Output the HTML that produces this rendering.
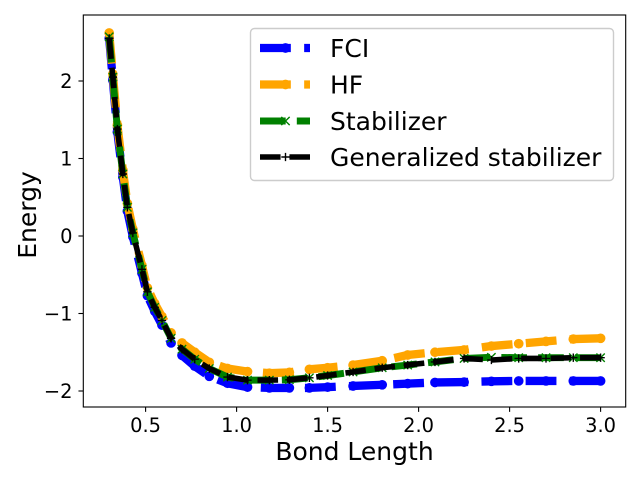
<!DOCTYPE html>
<html>
<head>
<meta charset="utf-8">
<title>Energy vs Bond Length</title>
<style>
html,body{margin:0;padding:0;background:#fff;width:640px;height:480px;overflow:hidden}
svg{display:block}
text{font-family:"DejaVu Sans","Liberation Sans",sans-serif;fill:#000}
</style>
</head>
<body>
<svg id="chart" xmlns="http://www.w3.org/2000/svg" width="640" height="480" viewBox="0 0 640 480"></svg>
<script>
const bondLengths = [0.30,0.32,0.345,0.375,0.40,0.43,0.48,0.51,0.55,0.59,0.64,0.70,0.77,0.85,0.95,1.06,1.18,1.29,1.40,1.50,1.64,1.80,1.94,2.09,2.25,2.40,2.55,2.70,2.85,3.00];
const fciValues = [2.55,2.01,1.34,0.76,0.32,-0.01,-0.48,-0.77,-0.97,-1.15,-1.38,-1.54,-1.68,-1.81,-1.90,-1.95,-1.96,-1.96,-1.96,-1.95,-1.935,-1.92,-1.905,-1.89,-1.885,-1.875,-1.87,-1.87,-1.87,-1.87];
const hfValues = [2.62,2.09,1.43,0.85,0.42,0.09,-0.38,-0.67,-0.87,-1.04,-1.25,-1.38,-1.50,-1.63,-1.71,-1.75,-1.77,-1.76,-1.72,-1.70,-1.665,-1.61,-1.535,-1.50,-1.47,-1.42,-1.39,-1.36,-1.33,-1.32];
const stabilizerValues = [2.57,2.05,1.38,0.80,0.37,0.04,-0.43,-0.72,-0.92,-1.09,-1.32,-1.46,-1.59,-1.71,-1.82,-1.86,-1.86,-1.855,-1.83,-1.80,-1.755,-1.70,-1.665,-1.625,-1.58,-1.565,-1.57,-1.57,-1.57,-1.57];
const generalizedValues = [2.55,2.05,1.38,0.80,0.37,0.04,-0.43,-0.72,-0.92,-1.09,-1.32,-1.46,-1.59,-1.71,-1.82,-1.86,-1.86,-1.855,-1.83,-1.80,-1.755,-1.70,-1.665,-1.625,-1.58,-1.60,-1.58,-1.58,-1.57,-1.57];
const xTicks = [0.5,1.0,1.5,2.0,2.5,3.0];
const xTickLabels = ["0.5","1.0","1.5","2.0","2.5","3.0"];
const yTicks = [-2,-1,0,1,2];
const yTickLabels = ["\u22122","\u22121","0","1","2"];
const seriesNames = ["FCI","HF","Stabilizer","Generalized stabilizer"];

const svg = document.getElementById('chart');
const NS = 'http://www.w3.org/2000/svg';
const plot = {left:83.3, right:625.7, top:15, bottom:407};
function xScale(v){ return 145.6 + (v - 0.5) * 182; }
function yScale(v){ return 236 - v * 77.5; }
function mk(tag, attrs, parent){
  const el = document.createElementNS(NS, tag);
  for (const k in attrs) el.setAttribute(k, attrs[k]);
  (parent || svg).appendChild(el);
  return el;
}
function drawMarker(kind, x, y, color, parent){
  if (kind === 'o') {
    return mk('circle', {cx:x, cy:y, r:4.85, fill:color}, parent);
  }
  const r = 4.17;
  if (kind === 'x') {
    return mk('path', {d:`M${x-r} ${y-r}L${x+r} ${y+r}M${x-r} ${y+r}L${x+r} ${y-r}`, stroke:color, 'stroke-width':1.39, fill:'none'}, parent);
  }
  return mk('path', {d:`M${x-r} ${y}L${x+r} ${y}M${x} ${y-r}L${x} ${y+r}`, stroke:color, 'stroke-width':1.39, fill:'none'}, parent);
}
function polyLength(pts){
  let total = 0;
  for (let i = 1; i < pts.length; i++) {
    total += Math.hypot(pts[i][0]-pts[i-1][0], pts[i][1]-pts[i-1][1]);
  }
  return total;
}

const styles = [
  {color:'#0000ff', width:8.33, dash:30.83, gap:13.33, marker:'o', key:'fci'},
  {color:'#ffa500', width:8.33, dash:30.83, gap:13.33, marker:'o', key:'hf'},
  {color:'#008000', width:6.94, dash:25.69, gap:11.11, marker:'x', key:'stabilizer'},
  {color:'#000000', width:5.56, dash:20.56, gap:8.89, marker:'+', key:'generalized-stabilizer'}
];
const seriesValues = [fciValues, hfValues, stabilizerValues, generalizedValues];
const kneeIndex = bondLengths.indexOf(0.64);

const bg = mk('rect', {x:0, y:0, width:640, height:480, fill:'#fff'});



styles.forEach(function(s, i){
  const g = mk('g', {});
  
  
  const pts = bondLengths.map(function(b, j){ return [xScale(b), yScale(seriesValues[i][j])]; });
  const period = s.dash + s.gap;
  const steep = pts.slice(0, kneeIndex + 1);
  const tail = pts.slice(kneeIndex);
  const tailOffset = (((s.dash - polyLength(tail)) % period) + period) % period;
  const steepLine = mk('polyline', {points:steep.map(function(p){ return p.join(','); }).join(' '), fill:'none', stroke:s.color, 'stroke-width':s.width, 'stroke-dasharray':s.dash + ' ' + s.gap, 'stroke-linejoin':'round', 'stroke-linecap':'butt'}, g);
  
  
  const tailLine = mk('polyline', {points:tail.map(function(p){ return p.join(','); }).join(' '), fill:'none', stroke:s.color, 'stroke-width':s.width, 'stroke-dasharray':s.dash + ' ' + s.gap, 'stroke-dashoffset':tailOffset, 'stroke-linejoin':'round', 'stroke-linecap':'butt'}, g);
  
  
  pts.forEach(function(p){
    const m = drawMarker(s.marker, p[0], p[1], s.color, g);
    
    
  });
});

const frame = mk('rect', {x:plot.left, y:plot.top, width:plot.right-plot.left, height:plot.bottom-plot.top, fill:'none', stroke:'#000', 'stroke-width':1.1});



xTicks.forEach(function(t, i){
  const x = xScale(t);
  const tick = mk('line', {x1:x, x2:x, y1:plot.bottom, y2:plot.bottom+4.86, stroke:'#000', 'stroke-width':1.1});
  
  
  const lab = mk('text', {x:x, y:432, 'font-size':19.44, 'text-anchor':'middle'});
  lab.textContent = xTickLabels[i];
  
  
});
yTicks.forEach(function(t, i){
  const y = yScale(t);
  const tick = mk('line', {x1:plot.left-4.86, x2:plot.left, y1:y, y2:y, stroke:'#000', 'stroke-width':1.1});
  
  
  const lab = mk('text', {x:72.5, y:y+7, 'font-size':19.44, 'text-anchor':'end'});
  lab.textContent = yTickLabels[i];
  
  
});

const xTitle = mk('text', {x:354.5, y:460, 'font-size':25, 'text-anchor':'middle'});
xTitle.textContent = 'Bond Length';


const yTitle = mk('text', {x:0, y:0, 'font-size':25, 'text-anchor':'middle', transform:'translate(36 215) rotate(-90)'});
yTitle.textContent = 'Energy';



const legend = mk('g', {});


const legendBox = mk('rect', {x:250.5, y:28.5, width:363, height:152, rx:4, ry:4, fill:'#fff', 'fill-opacity':0.8, stroke:'#ccc', 'stroke-width':1.39}, legend);


const legendRows = [48, 84.5, 121, 157];
styles.forEach(function(s, i){
  const g = mk('g', {}, legend);
  
  
  const y = legendRows[i];
  const h = mk('line', {x1:260, x2:310, y1:y, y2:y, stroke:s.color, 'stroke-width':s.width, 'stroke-dasharray':s.dash + ' ' + s.gap}, g);
  
  
  const m = drawMarker(s.marker, 285.5, y, s.color, g);
  
  
  const t = mk('text', {x:330, y:y+9, 'font-size':25}, g);
  t.textContent = seriesNames[i];
  
  
});
</script>
</body>
</html>
